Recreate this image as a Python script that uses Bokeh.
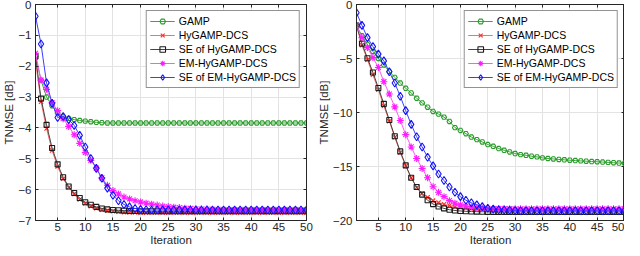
from bokeh.plotting import figure
from bokeh.layouts import row
from bokeh.models import Legend, LegendItem, LinearAxis, FixedTicker, Range1d, CustomLabelingPolicy
from bokeh.embed import file_html
from bokeh.resources import INLINE

iterations = list(range(1, 51))
series_labels = ["GAMP", "HyGAMP-DCS", "SE of HyGAMP-DCS", "EM-HyGAMP-DCS", "SE of EM-HyGAMP-DCS"]
x_ticks = [5, 10, 15, 20, 25, 30, 35, 40, 45, 50]
left_y_ticks = [-7, -6, -5, -4, -3, -2, -1, 0]
right_y_ticks = [-20, -15, -10, -5, 0]

# ---- left panel ----
left_gamp = [-1.68, -2.45, -3.0, -3.28, -3.52, -3.63, -3.69, -3.73, -3.76, -3.78,
             -3.8, -3.82, -3.83] + [-3.84] * 37
left_hygamp = [-1.84, -3.15, -4.02, -4.73, -5.25, -5.65, -5.93, -6.14, -6.32, -6.45,
               -6.54, -6.6, -6.65, -6.68, -6.7, -6.72, -6.73, -6.74, -6.74, -6.75] + [-6.75] * 30
left_se_hygamp = [-1.68, -3.05, -3.9, -4.65, -5.18, -5.6, -5.9, -6.11, -6.27, -6.41,
                  -6.49, -6.56, -6.61, -6.64, -6.66, -6.67, -6.68, -6.69, -6.69, -6.7] + [-6.7] * 30
left_em = [-1.58, -2.45, -2.75, -3.18, -3.44, -3.7, -3.95, -4.22, -4.5, -4.8,
           -5.05, -5.3, -5.62, -5.86, -6.03, -6.14, -6.24, -6.3, -6.36, -6.4,
           -6.44, -6.47, -6.5, -6.53, -6.55, -6.57, -6.58, -6.6, -6.61, -6.62,
           -6.63, -6.63, -6.64, -6.64, -6.65] + [-6.65] * 15
left_se_em = [-0.38, -1.28, -2.54, -3.2, -3.66, -3.63, -3.73, -3.92, -4.24, -4.62,
              -4.99, -5.31, -5.63, -5.95, -6.18, -6.36, -6.48, -6.56, -6.61, -6.64,
              -6.65, -6.66] + [-6.66] * 28

# ---- right panel ----
right_gamp = [-1.94, -2.9, -3.7, -4.35, -5.0, -5.6, -6.2, -6.75, -7.27, -7.76,
              -8.19, -8.68, -9.11, -9.51, -9.9, -10.15, -10.43, -10.83, -11.4, -11.66,
              -11.96, -12.27, -12.51, -12.73, -12.97, -13.13, -13.34, -13.5, -13.65, -13.8,
              -13.9, -13.96, -14.05, -14.11, -14.2, -14.26, -14.3, -14.35, -14.38, -14.42,
              -14.45, -14.48, -14.51, -14.54, -14.56, -14.59, -14.62, -14.65, -14.68, -14.7]
right_hygamp = [-1.94, -3.78, -5.12, -6.51, -7.9, -9.4, -10.8, -12.3, -13.7, -14.95,
                -16.05, -16.95, -17.5, -17.85, -18.16, -18.34, -18.5, -18.62, -18.72, -18.8,
                -18.86, -18.9, -18.93, -18.95, -18.96] + [-18.97] * 25
right_se_hygamp = [-1.94, -3.62, -4.97, -6.29, -7.73, -9.2, -10.7, -12.2, -13.6, -14.9,
                   -16.04, -16.9, -17.6, -18.13, -18.48, -18.71, -18.88, -19.0, -19.07, -19.12,
                   -19.15, -19.17, -19.18, -19.19] + [-19.2] * 26
right_em = [-1.94, -3.07, -3.99, -4.91, -5.83, -7.15, -8.29, -9.48, -10.74, -12.05,
            -13.19, -14.26, -15.18, -16.04, -16.87, -17.39, -17.79, -18.16, -18.4, -18.55,
            -18.66, -18.74, -18.8, -18.84, -18.87, -18.89, -18.9, -18.91, -18.91, -18.92] + [-18.92] * 20
right_se_em = [-0.77, -1.93, -3.07, -3.9, -4.6, -5.22, -6.23, -7.27, -8.5, -9.83,
               -11.1, -12.24, -13.19, -14.14, -14.94, -15.7, -16.3, -16.9, -17.39, -17.79,
               -18.12, -18.36, -18.55, -18.72, -18.86, -18.95, -19.0, -19.03, -19.05, -19.07] + [-19.1] * 20

colors = ["#2a9a2a", "#ff2a2a", "#1a1a1a", "#ff1aff", "#1010ff"]
line_colors = ["#3aa83a", "#ff6a6a", "#444444", "#ff55ff", "#3d3dff"]
markers = ["hex", "x", "square", "asterisk", "diamond"]
msizes = [5, 6, 5, 7, 8]

FONT = "Liberation Sans"
AX = "#262626"


def make_panel(series, y_start, y_end, y_ticks, width, height, min_right):
    p = figure(width=width, height=height, output_backend="svg", toolbar_location=None,
               x_range=Range1d(1, 50), y_range=Range1d(y_start, y_end),
               min_border_left=0, min_border_right=min_right, min_border_top=4,
               min_border_bottom=0)
    p.background_fill_color = "white"
    p.border_fill_color = "white"
    p.outline_line_color = AX
    p.outline_line_width = 1

    for ax in (p.xaxis[0], p.yaxis[0]):
        ax.axis_line_color = AX
        ax.major_tick_line_color = AX
        ax.major_tick_in = 3
        ax.major_tick_out = 0
        ax.minor_tick_line_color = None
        ax.major_label_text_font = FONT
        ax.major_label_text_font_size = "11.5px"
        ax.major_label_text_color = AX
        ax.axis_label_text_font = FONT
        ax.axis_label_text_font_size = "11.5px"
        ax.axis_label_text_font_style = "normal"
        ax.axis_label_text_color = AX
        ax.axis_label_standoff = 0
    p.xaxis.major_label_standoff = 2
    p.yaxis.major_label_standoff = 4
    p.xaxis.ticker = FixedTicker(ticks=x_ticks)
    p.yaxis.ticker = FixedTicker(ticks=y_ticks)
    p.xaxis.axis_label = "Iteration"
    p.yaxis.axis_label = "TNMSE [dB]"

    # box ticks on top and right (no labels)
    hide_all = CustomLabelingPolicy(
        code="for (let i = 0; i < indices.size; i++) { indices.unset(i) } return indices")
    top = LinearAxis(ticker=FixedTicker(ticks=x_ticks), major_label_policy=hide_all)
    right = LinearAxis(ticker=FixedTicker(ticks=y_ticks), major_label_policy=hide_all)
    for ax in (top, right):
        ax.axis_line_color = AX
        ax.major_tick_line_color = AX
        ax.major_tick_in = 3
        ax.major_tick_out = 0
        ax.minor_tick_line_color = None
        ax.major_label_standoff = 0
        ax.major_label_text_font_size = "0px"
    p.add_layout(top, "above")
    p.add_layout(right, "right")

    p.grid.grid_line_color = "#e3e3e3"
    p.grid.grid_line_width = 1
    p.xgrid.ticker = FixedTicker(ticks=x_ticks)
    p.ygrid.ticker = FixedTicker(ticks=y_ticks)

    items = []
    for vals, lab, c, lc, m, s in zip(series, series_labels, colors, line_colors, markers, msizes):
        ln = p.line(iterations, vals, line_color=lc, line_width=1)
        sc = p.scatter(iterations, vals, marker=m, size=s, line_color=c, fill_color=None,
                       line_width=1.1)
        items.append(LegendItem(label=lab, renderers=[ln, sc]))

    legend = Legend(items=items, location="top_right")
    legend.margin = 6
    legend.padding = 3
    legend.spacing = 0
    legend.glyph_width = 25
    legend.glyph_height = 14
    legend.label_height = 12
    legend.label_standoff = 4
    legend.label_text_font = FONT
    legend.label_text_font_size = "10.5px"
    legend.label_text_color = "black"
    legend.border_line_color = AX
    legend.border_line_width = 1
    legend.background_fill_color = "white"
    legend.background_fill_alpha = 1
    p.add_layout(legend, "center")
    return p


p_left = make_panel([left_gamp, left_hygamp, left_se_hygamp, left_em, left_se_em],
                    -7, 0, left_y_ticks, 314, 248, 8)
p_right = make_panel([right_gamp, right_hygamp, right_se_hygamp, right_em, right_se_em],
                     -20, 0, right_y_ticks, 310, 248, 0)

layout = row(p_left, p_right)
open("out.html", "w").write(file_html(layout, INLINE))
